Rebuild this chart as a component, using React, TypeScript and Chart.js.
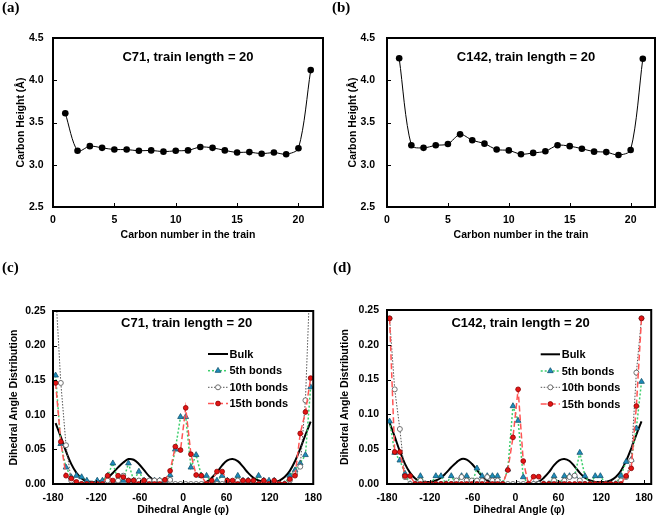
import React, { useEffect, useRef } from "react";
import { Chart, registerables } from "chart.js";
Chart.register(...registerables);

const FONT = "'Liberation Sans', Arial, Helvetica, sans-serif";

// ---------- data ----------
const CARBON_NUMBERS = [1, 2, 3, 4, 5, 6, 7, 8, 9, 10, 11, 12, 13, 14, 15, 16, 17, 18, 19, 20, 21];
const HEIGHT_C71 = [3.61, 3.165, 3.22, 3.2, 3.18, 3.18, 3.165, 3.17, 3.155, 3.165, 3.17, 3.21, 3.2, 3.17, 3.145, 3.15, 3.13, 3.145, 3.125, 3.195, 4.12];
const HEIGHT_C142 = [4.26, 3.23, 3.2, 3.23, 3.245, 3.36, 3.29, 3.25, 3.18, 3.17, 3.125, 3.14, 3.16, 3.23, 3.22, 3.19, 3.155, 3.15, 3.115, 3.175, 4.255];

const ANGLES = [
  -176.4, -169.2, -162, -154.8, -147.6, -140.4, -133.2, -126, -118.8, -111.6,
  -104.4, -97.2, -90, -82.8, -75.6, -68.4, -61.2, -54, -46.8, -39.6,
  -32.4, -25.2, -18, -10.8, -3.6, 3.6, 10.8, 18, 25.2, 32.4,
  39.6, 46.8, 54, 61.2, 68.4, 75.6, 82.8, 90, 97.2, 104.4,
  111.6, 118.8, 126, 133.2, 140.4, 147.6, 154.8, 162, 169.2, 176.4,
];

const BULK = [
  0.088, 0.068, 0.047, 0.029, 0.016, 0.008, 0.004, 0.003, 0.003, 0.005,
  0.009, 0.016, 0.024, 0.031, 0.036, 0.035, 0.029, 0.02, 0.011, 0.005,
  0.002, 0.001, 0, 0, 0, 0, 0, 0, 0.001, 0.003,
  0.009, 0.017, 0.027, 0.034, 0.036, 0.033, 0.025, 0.016, 0.009, 0.005,
  0.003, 0.003, 0.003, 0.005, 0.01, 0.019, 0.033, 0.051, 0.071, 0.09,
];

const C71_5TH = [
  0.157, 0.058, 0.024, 0.01, 0.012, 0.01, 0.005, 0, 0.005, 0.005,
  0.012, 0.03, 0.005, 0.005, 0.03, 0.005, 0.018, 0.005, 0, 0.005,
  0.005, 0.005, 0.013, 0.05, 0.097, 0.097, 0.024, 0.042, 0.012, 0.012,
  0, 0.005, 0.012, 0.005, 0, 0.012, 0.005, 0.005, 0, 0.012,
  0.005, 0.005, 0.005, 0, 0, 0.012, 0.02, 0.03, 0.042, 0.14,
];
const C71_10TH = [
  0.28, 0.146, 0.056, 0.005, 0, 0, 0, 0, 0, 0,
  0.005, 0, 0.005, 0.012, 0.005, 0.005, 0.005, 0.005, 0.005, 0.005,
  0.005, 0.005, 0.006, 0, 0, 0, 0, 0, 0, 0,
  0, 0, 0, 0, 0.002, 0.005, 0.002, 0, 0, 0,
  0, 0, 0, 0, 0, 0.005, 0.015, 0.025, 0.121, 0.32,
];
const C71_15TH = [
  0.146, 0.061, 0.012, 0.008, 0.003, 0, 0, 0, 0, 0,
  0.012, 0.005, 0.012, 0.01, 0.005, 0.005, 0, 0.005, 0, 0,
  0, 0.006, 0.019, 0.054, 0.049, 0.11, 0.043, 0.013, 0.012, 0,
  0.005, 0.018, 0.018, 0.005, 0.005, 0, 0.005, 0.005, 0.005, 0,
  0.005, 0, 0.005, 0, 0, 0.007, 0.012, 0.073, 0.104, 0.153,
];

const C142_5TH = [
  0.09, 0.045, 0.034, 0.015, 0, 0, 0.0115, 0, 0, 0.0115,
  0.0115, 0, 0.0115, 0, 0.0115, 0.0115, 0, 0.0225, 0.0115, 0.0115,
  0.0115, 0.0115, 0, 0.021, 0.112, 0.091, 0.01, 0, 0, 0,
  0, 0, 0.0115, 0, 0.0115, 0.0115, 0.0115, 0.045, 0.0115, 0,
  0.0115, 0.0115, 0, 0, 0, 0.012, 0.032, 0.035, 0.08, 0.147,
];
const C142_10TH = [
  0.238, 0.136, 0.079, 0.01, 0, 0, 0.005, 0, 0, 0,
  0, 0, 0, 0.005, 0.01, 0.005, 0.005, 0.005, 0.005, 0.01,
  0.005, 0.005, 0, 0, 0, 0, 0, 0, 0, 0,
  0, 0, 0.005, 0, 0.005, 0.01, 0.012, 0.005, 0, 0,
  0, 0, 0, 0, 0, 0.005, 0.01, 0.034, 0.16, 0.238,
];
const C142_15TH = [
  0.238, 0.046, 0.046, 0.0115, 0.0115, 0, 0, 0, 0, 0,
  0, 0, 0, 0, 0, 0, 0, 0, 0, 0,
  0, 0, 0, 0.02, 0.067, 0.136, 0.033, 0, 0.0105, 0.0105,
  0, 0, 0, 0, 0, 0, 0, 0, 0, 0,
  0, 0, 0, 0, 0, 0, 0.0115, 0.0225, 0.112, 0.238,
];

const HEIGHT_TICKS = [2.5, 3.0, 3.5, 4.0, 4.5];
const ANGLE_TICKS = [-180, -120, -60, 0, 60, 120, 180];

// ---------- helpers ----------
const pts = (xs: number[], ys: number[]) => xs.map((x, i) => ({ x, y: ys[i] }));

function drawMarker(ctx: CanvasRenderingContext2D, style: string, x: number, y: number, r: number, fill: string, stroke: string, lw: number) {
  ctx.beginPath();
  if (style === "triangle") {
    let rad = 0;
    ctx.moveTo(x + Math.sin(rad) * r, y - Math.cos(rad) * r);
    rad += (2 * Math.PI) / 3;
    ctx.lineTo(x + Math.sin(rad) * r, y - Math.cos(rad) * r);
    rad += (2 * Math.PI) / 3;
    ctx.lineTo(x + Math.sin(rad) * r, y - Math.cos(rad) * r);
    ctx.closePath();
  } else {
    ctx.arc(x, y, r, 0, Math.PI * 2);
  }
  ctx.fillStyle = fill;
  ctx.fill();
  if (lw > 0) {
    ctx.lineWidth = lw;
    ctx.strokeStyle = stroke;
    ctx.stroke();
  }
}

const framePlugin = {
  id: "frame",
  afterDraw(chart: any, _args: any, opts: any) {
    const ctx: CanvasRenderingContext2D = chart.ctx;
    const a = chart.chartArea;
    const xs = chart.scales.x;
    const ys = chart.scales.y;
    ctx.save();
    ctx.strokeStyle = "#000";
    ctx.lineWidth = 1;
    xs.ticks.forEach((t: any) => {
      const px = Math.round(xs.getPixelForValue(t.value)) + 0.5;
      ctx.beginPath();
      ctx.moveTo(px, a.bottom);
      ctx.lineTo(px, a.bottom - 4);
      ctx.stroke();
    });
    ys.ticks.forEach((t: any) => {
      const py = Math.round(ys.getPixelForValue(t.value)) + 0.5;
      ctx.beginPath();
      ctx.moveTo(a.left, py);
      ctx.lineTo(a.left + 4, py);
      ctx.stroke();
    });
    ctx.lineWidth = 2;
    ctx.strokeRect(a.left, a.top, a.right - a.left, a.bottom - a.top);

    ctx.fillStyle = "#000";
    ctx.font = `bold 13px ${FONT}`;
    ctx.textAlign = "center";
    ctx.textBaseline = "middle";
    ctx.fillText(opts.title, (a.left + a.right) / 2 + opts.titleDx, a.top + opts.titleDy);

    if (opts.legend) {
      const L = opts.legend;
      L.items.forEach((idx: number, k: number) => {
        const ds = chart.data.datasets[idx];
        const y = L.ys[k];
        ctx.save();
        ctx.strokeStyle = ds.borderColor;
        ctx.lineWidth = ds.borderWidth;
        ctx.setLineDash(ds.borderDash || []);
        ctx.beginPath();
        ctx.moveTo(L.x1, y);
        ctx.lineTo(L.x2, y);
        ctx.stroke();
        ctx.setLineDash([]);
        if (ds.pointRadius > 0) {
          drawMarker(ctx, ds.pointStyle, (L.x1 + L.x2) / 2, y, ds.pointRadius, ds.pointBackgroundColor, ds.pointBorderColor, ds.pointBorderWidth);
        }
        ctx.fillStyle = "#000";
        ctx.font = `bold 11px ${FONT}`;
        ctx.textAlign = "left";
        ctx.textBaseline = "middle";
        ctx.fillText(ds.label, L.tx, y + 0.5);
        ctx.restore();
      });
    }
    ctx.restore();
  },
};

const tickFont = { family: FONT, size: 10.5, weight: "bold" as const };
const titleFont = { family: FONT, size: 10.5, weight: "bold" as const };
const noGrid = { display: false, drawTicks: false, tickLength: 0 };

function heightConfig(values: number[], title: string, geo: any) {
  return {
    type: "line",
    data: {
      datasets: [
        {
          label: title,
          data: pts(CARBON_NUMBERS, values),
          borderColor: "#000",
          borderWidth: 1,
          tension: 0.3,
          pointRadius: 3.3,
          pointStyle: "circle",
          pointBackgroundColor: "#000",
          pointBorderColor: "#000",
          pointBorderWidth: 0,
        },
      ],
    },
    options: {
      animation: false,
      responsive: false,
      events: [],
      layout: { padding: { left: 0, top: geo.top, right: geo.right, bottom: 0 } },
      plugins: {
        legend: { display: false },
        tooltip: { enabled: false },
        frame: { title, titleDx: geo.titleDx, titleDy: 19 },
      },
      scales: {
        x: {
          type: "linear",
          min: 0,
          max: 22,
          ticks: { stepSize: 5, font: tickFont, color: "#000", padding: 6.5, maxRotation: 0 },
          afterBuildTicks: (s: any) => {
            s.ticks = s.ticks.filter((t: any) => t.value % 5 === 0);
          },
          grid: noGrid,
          border: { display: false },
          title: { display: true, text: "Carbon number in the train", font: titleFont, color: "#000", padding: { top: 0, bottom: 18.7 } },
          afterFit: (s: any) => {
            s.height = geo.xh;
          },
        },
        y: {
          type: "linear",
          min: 2.5,
          max: 4.5,
          afterBuildTicks: (s: any) => {
            s.ticks = HEIGHT_TICKS.map((v) => ({ value: v }));
          },
          ticks: { font: tickFont, color: "#000", padding: geo.ytp, callback: (v: any) => Number(v).toFixed(1) },
          grid: noGrid,
          border: { display: false },
          title: { display: true, text: "Carbon Height (Å)", font: titleFont, color: "#000", padding: { top: geo.ytitle, bottom: 0 } },
          afterFit: (s: any) => {
            s.width = geo.yw;
          },
        },
      },
    },
    plugins: [framePlugin],
  };
}

function angleConfig(bulk: number[], s5: number[], s10: number[], s15: number[], title: string, geo: any) {
  return {
    type: "line",
    data: {
      datasets: [
        {
          label: "Bulk",
          data: pts(ANGLES, bulk),
          borderColor: "#000",
          borderWidth: 2,
          tension: 0.4,
          pointRadius: 0,
          order: 3,
        },
        {
          label: "5th bonds",
          data: pts(ANGLES, s5),
          borderColor: "#3ccf6c",
          borderWidth: 1.5,
          borderDash: [2, 2],
          pointRadius: 3.3,
          pointStyle: "triangle",
          pointBackgroundColor: "#1d8cbd",
          pointBorderColor: "#14556f",
          pointBorderWidth: 0.8,
          order: 2,
        },
        {
          label: "10th bonds",
          data: pts(ANGLES, s10),
          borderColor: "#555555",
          borderWidth: 1,
          borderDash: [1.5, 1.5],
          pointRadius: 2.5,
          pointStyle: "circle",
          pointBackgroundColor: "#ffffff",
          pointBorderColor: "#6f6f6f",
          pointBorderWidth: 1,
          order: 1,
        },
        {
          label: "15th bonds",
          data: pts(ANGLES, s15),
          borderColor: "#ff5555",
          borderWidth: 1.5,
          borderDash: [6, 3],
          pointRadius: 2.4,
          pointStyle: "circle",
          pointBackgroundColor: "#e41414",
          pointBorderColor: "#8a0000",
          pointBorderWidth: 0.8,
          order: 0,
        },
      ],
    },
    options: {
      animation: false,
      responsive: false,
      events: [],
      layout: { padding: { left: 0, top: geo.top, right: geo.right, bottom: 0 } },
      plugins: {
        legend: { display: false },
        tooltip: { enabled: false },
        frame: { title, titleDx: geo.titleDx, titleDy: geo.titleDy, legend: geo.legend },
      },
      scales: {
        x: {
          type: "linear",
          min: -180,
          max: geo.xmax,
          afterBuildTicks: (s: any) => {
            s.ticks = ANGLE_TICKS.map((v) => ({ value: v }));
          },
          ticks: { font: tickFont, color: "#000", padding: 8, maxRotation: 0, autoSkip: false },
          grid: noGrid,
          border: { display: false },
          title: { display: true, text: "Dihedral Angle (φ)", font: titleFont, color: "#000", padding: { top: 0, bottom: 2.7 } },
          afterFit: (s: any) => {
            s.height = geo.xh;
          },
        },
        y: {
          type: "linear",
          min: 0,
          max: 0.25,
          ticks: { stepSize: 0.05, font: tickFont, color: "#000", padding: geo.ytp, callback: (v: any) => Number(v).toFixed(2) },
          grid: noGrid,
          border: { display: false },
          title: { display: true, text: "Dihedral Angle Distribution", font: titleFont, color: "#000", padding: { top: geo.ytitle, bottom: 0 } },
          afterFit: (s: any) => {
            s.width = geo.yw;
          },
        },
      },
    },
    plugins: [framePlugin],
  };
}

function Panel({ left, top, width, height, build }: { left: number; top: number; width: number; height: number; build: () => any }) {
  const ref = useRef<HTMLCanvasElement>(null);
  useEffect(() => {
    const chart = new Chart(ref.current as HTMLCanvasElement, build());
    return () => chart.destroy();
  }, []);
  return (
    <div style={{ position: "absolute", left, top, width, height }}>
      <canvas ref={ref} width={width} height={height} style={{ width, height, display: "block" }} />
    </div>
  );
}

const labelStyle = (left: number, top: number): React.CSSProperties => ({
  position: "absolute",
  left,
  top,
  fontFamily: "'Liberation Serif', 'Times New Roman', serif",
  fontWeight: "bold",
  fontSize: 15,
  lineHeight: "15px",
  color: "#000",
});

export default function App() {
  return (
    <div style={{ position: "absolute", left: 0, top: 0, width: 661, height: 519, background: "#fff", overflow: "hidden" }}>
      <Panel
        left={0}
        top={0}
        width={330}
        height={260}
        build={() => heightConfig(HEIGHT_C71, "C71, train length = 20", { top: 38, right: 7, xh: 53, yw: 53, ytp: 9.5, ytitle: 15, titleDx: 0 })}
      />
      <Panel
        left={330}
        top={0}
        width={331}
        height={260}
        build={() => heightConfig(HEIGHT_C142, "C142, train length = 20", { top: 38, right: 6, xh: 53, yw: 57, ytp: 12, ytitle: 16.5, titleDx: 5 })}
      />
      <Panel
        left={0}
        top={260}
        width={330}
        height={259}
        build={() =>
          angleConfig(BULK, C71_5TH, C71_10TH, C71_15TH, "C71, train length = 20", {
            top: 51,
            right: 15,
            xh: 35,
            yw: 53,
            ytp: 7.3,
            ytitle: 7.7,
            xmax: 180,
            titleDx: 3.5,
            titleDy: 12.6,
            legend: { items: [0, 1, 2, 3], x1: 208, x2: 228, tx: 229.5, ys: [94, 110.7, 127.3, 143.5] },
          })
        }
      />
      <Panel
        left={330}
        top={260}
        width={331}
        height={259}
        build={() =>
          angleConfig(BULK, C142_5TH, C142_10TH, C142_15TH, "C142, train length = 20", {
            top: 50,
            right: 6,
            xh: 35,
            yw: 57,
            ytp: 8,
            ytitle: 8.7,
            xmax: 190,
            titleDx: 1.5,
            titleDy: 13,
            legend: { items: [0, 1, 2, 3], x1: 210.7, x2: 230, tx: 231.7, ys: [94.3, 111, 127.3, 144] },
          })
        }
      />
      <div style={labelStyle(2, 0)}>(a)</div>
      <div style={labelStyle(332, 0)}>(b)</div>
      <div style={labelStyle(2, 260)}>(c)</div>
      <div style={labelStyle(333, 260)}>(d)</div>
    </div>
  );
}
